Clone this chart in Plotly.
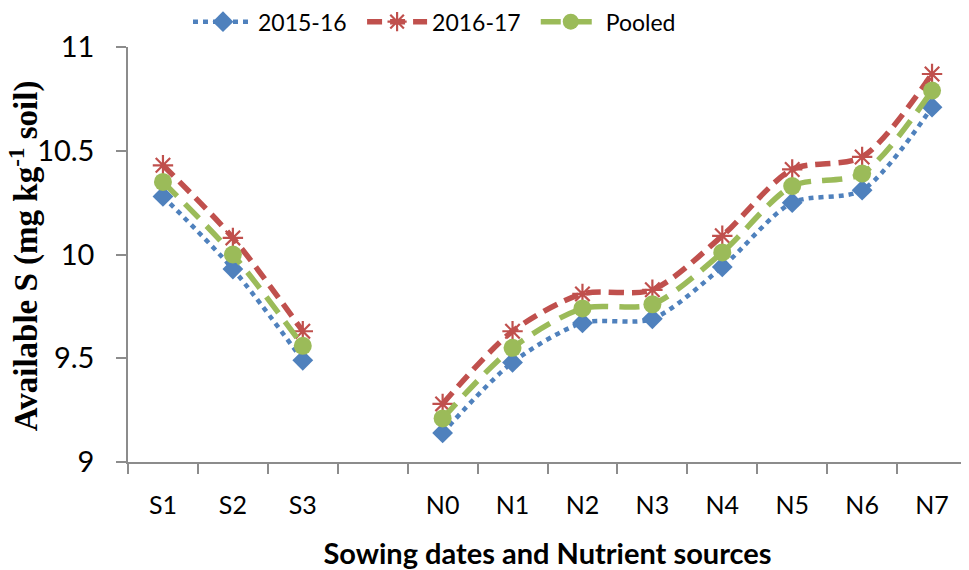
import plotly.graph_objects as go

categories = ["S1", "S2", "S3", " ", "N0", "N1", "N2", "N3", "N4", "N5", "N6", "N7"]
y_2015_16 = [10.28, 9.93, 9.49, None, 9.14, 9.48, 9.67, 9.69, 9.94, 10.25, 10.31, 10.71]
y_2016_17 = [10.43, 10.08, 9.63, None, 9.28, 9.63, 9.81, 9.83, 10.09, 10.41, 10.47, 10.87]
y_pooled = [10.35, 10.00, 9.56, None, 9.21, 9.55, 9.74, 9.76, 10.01, 10.33, 10.39, 10.79]
y_ticks = [9, 9.5, 10, 10.5, 11]
y_ticklabels = ["9", "9.5", "10", "10.5", "11"]
y_title = "<b>Available S (mg kg<sup>-1</sup> soil)</b>"
x_title = "<b>Sowing dates and Nutrient sources</b>"

BLUE = "#4F81BD"
RED = "#C0504D"
GREEN = "#9BBB59"

fig = go.Figure()
fig.add_trace(go.Scatter(
    x=categories, y=y_2015_16, name="2015-16", mode="lines+markers",
    line=dict(color=BLUE, width=4.5, dash="5px,5px", shape="spline", smoothing=0.8),
    marker=dict(symbol="diamond", size=16, color=BLUE),
    connectgaps=False, legend="legend",
))
fig.add_trace(go.Scatter(
    x=categories, y=y_2016_17, name="2016-17", mode="lines+markers",
    line=dict(color=RED, width=5.5, dash="15px,8px", shape="spline", smoothing=0.8),
    marker=dict(symbol="asterisk-open", size=17, color=RED, line=dict(color=RED, width=2.2)),
    connectgaps=False, legend="legend2",
))
fig.add_trace(go.Scatter(
    x=categories, y=y_pooled, name="Pooled", mode="lines+markers",
    line=dict(color=GREEN, width=5.5, dash="20px,11px", shape="spline", smoothing=0.8),
    marker=dict(symbol="circle", size=18, color=GREEN),
    connectgaps=False, legend="legend3",
))

def legend_at(x):
    return dict(orientation="h", x=x, xanchor="left", y=1.061, yanchor="middle",
                font=dict(size=23), itemwidth=60, bgcolor="rgba(0,0,0,0)")

axis_color = "#8C8C8C"
fig.update_layout(
    width=961, height=562,
    margin=dict(l=120, r=2, t=39, b=108, autoexpand=False),
    plot_bgcolor="white", paper_bgcolor="white",
    font=dict(family="Lato, Liberation Sans, sans-serif", size=25, color="black"),
    showlegend=True,
    legend=legend_at(0.0715),
    legend2=legend_at(0.2790),
    legend3=legend_at(0.4860),
    xaxis=dict(
        type="category", categoryorder="array", categoryarray=categories,
        range=[-0.5, len(categories) - 0.5],
        showline=True, linecolor=axis_color, linewidth=1.5,
        ticks="outside", tickson="boundaries", ticklen=10, tickcolor=axis_color, tickwidth=1.5,
        ticklabelstandoff=20,
        showgrid=False, zeroline=False, automargin=False,
        tickfont=dict(size=25),
        title=dict(text=x_title, font=dict(size=29), standoff=26),
    ),
    yaxis=dict(
        range=[9, 11], tickvals=y_ticks, ticktext=y_ticklabels,
        showline=True, linecolor=axis_color, linewidth=1.5,
        ticks="outside", ticklen=10, tickcolor=axis_color, tickwidth=1.5,
        ticklabelstandoff=16,
        showgrid=False, zeroline=False, automargin=False,
        tickfont=dict(size=29),
    ),
    annotations=[dict(
        text=y_title, textangle=-90, showarrow=False,
        xref="paper", yref="paper", x=-0.1235, y=0.497,
        xanchor="center", yanchor="middle",
        font=dict(family="Liberation Serif, Times New Roman, serif", size=33, color="black"),
    )],
)

fig.write_html("out.html")
